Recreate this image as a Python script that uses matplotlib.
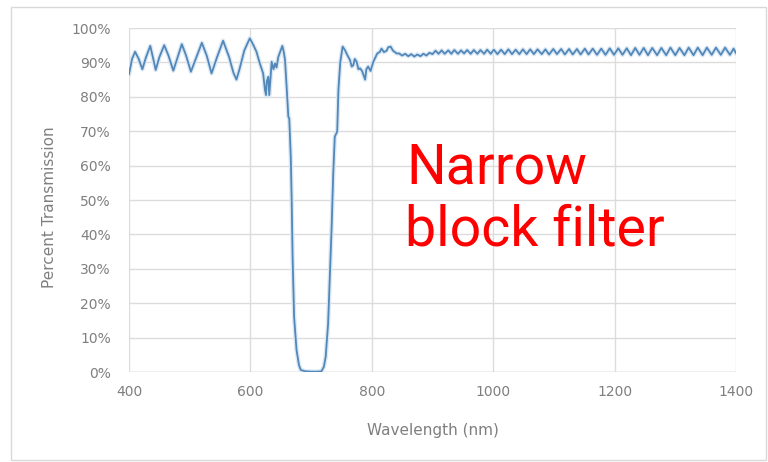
import matplotlib
matplotlib.use('Agg')
import matplotlib.pyplot as plt
from matplotlib.patches import Rectangle

# wavelength (nm) and transmission (%)
wavelength = [
	400, 405, 410, 416, 422, 428, 435, 440, 444, 450, 458, 465, 473, 480, 487,
	494, 502, 510, 520, 528, 536, 545, 555, 565, 572, 577, 582, 590, 599, 605,
	610, 615, 621, 624, 625.7, 627, 629.5, 631, 633, 635, 638, 640.5, 643, 646, 650,
	652.6, 655, 657, 660, 662.5, 664, 666.5, 668, 669.5, 672, 676, 680, 683, 690, 700,
	710, 717, 721, 724, 728, 731, 734, 736.5, 739, 743, 745, 748, 752, 756, 760,
	764, 767, 769.5, 772, 775, 778, 780.5, 784, 789, 791, 794, 798, 802.5, 806, 809,
	813, 816, 820, 824.5, 827, 831, 835, 841, 845, 850, 855, 860, 865, 870, 875,
	880, 885, 890, 895, 900,
	905, 910, 915, 920, 926, 931, 936, 942, 947, 952, 957, 963, 968, 974, 979,
	985, 990, 996, 1001, 1007, 1013, 1019, 1025, 1031, 1037, 1043, 1049, 1055, 1061, 1067,
	1073, 1080, 1086, 1092, 1099, 1105, 1112, 1118, 1125, 1131, 1138, 1144, 1151, 1157, 1164,
	1171, 1178, 1185, 1192, 1199, 1206, 1213, 1220, 1227, 1234, 1241, 1248, 1255, 1262, 1270,
	1277, 1285, 1292, 1300, 1307, 1315, 1322, 1330, 1337, 1345, 1352, 1360, 1367, 1375, 1382,
	1390, 1396, 1400]
transmission = [
	86.5, 91.0, 93.1, 91.0, 88.0, 91.5, 94.8, 91.0, 87.8, 91.5, 95.0, 92.0, 87.6, 91.5, 95.3,
	92.0, 87.3, 91.0, 95.7, 92.0, 86.8, 91.5, 96.3, 91.5, 87.0, 85.0, 88.0, 93.5, 97.0, 95.0,
	93.1, 90.0, 86.8, 82.0, 80.5, 84.5, 85.8, 80.5, 85.0, 90.2, 88.0, 89.7, 88.5, 91.6, 93.5,
	94.8, 93.0, 90.7, 82.0, 74.2, 73.7, 62.6, 50.0, 33.5, 16.0, 6.4, 2.0, 0.6, 0.2, 0.1,
	0.1, 0.2, 1.5, 4.4, 14.0, 28.7, 43.0, 57.8, 68.4, 69.9, 82.0, 90.0, 94.6, 93.5, 92.0,
	90.7, 88.8, 89.2, 91.0, 90.2, 88.0, 88.3, 87.5, 85.0, 88.0, 88.8, 87.5, 90.2, 91.5, 92.6,
	93.0, 94.0, 93.0, 93.4, 94.4, 94.6, 93.4, 92.6, 92.6, 92.0, 92.5, 91.8, 92.4, 91.7, 92.3,
	91.8, 92.5, 92.0, 92.8, 92.4,
	93.4, 92.5, 93.5, 92.5, 93.5, 92.5, 93.6, 92.5, 93.5, 92.6, 93.6, 92.5, 93.6, 92.5, 93.6,
	92.5, 93.7, 92.5, 93.7, 92.4, 93.7, 92.4, 93.8, 92.4, 93.7, 92.4, 93.8, 92.4, 93.8, 92.4,
	93.8, 92.4, 93.8, 92.3, 93.9, 92.4, 93.9, 92.3, 93.9, 92.3, 93.9, 92.3, 94.0, 92.3, 94.0,
	92.2, 94.0, 92.2, 94.1, 92.2, 94.1, 92.2, 94.1, 92.1, 94.2, 92.2, 94.2, 92.1, 94.2, 92.1,
	94.2, 92.1, 94.3, 92.1, 94.2, 92.1, 94.3, 92.1, 94.3, 92.1, 94.3, 92.2, 94.3, 92.2, 94.3,
	92.2, 94.0, 92.7]

x_ticks = [400, 600, 800, 1000, 1200, 1400]
y_ticks = [0, 10, 20, 30, 40, 50, 60, 70, 80, 90, 100]

fig = plt.figure(figsize=(7.68, 4.62), dpi=100)
ax = fig.add_axes([129/768, 1-372/462, (736-129)/768, (372-28)/462])

ax.plot(wavelength, transmission, color='#dae8f5', lw=3.2, solid_joinstyle='round')
ax.plot(wavelength, transmission, color='#5287b8', lw=1.3, solid_joinstyle='round')

ax.set_xlim(400, 1400)
ax.set_ylim(0, 100)
ax.set_xticks(x_ticks)
ax.set_yticks(y_ticks)
ax.set_yticklabels(['%d%%' % v for v in y_ticks])
ax.grid(True, color='#dcdcdc', lw=1)
ax.set_axisbelow(True)
for s in ax.spines.values():
	s.set_visible(False)
ax.axhline(0, color='#c4c4c4', lw=1, zorder=0.5)
ax.tick_params(length=0, colors='#7f7f7f', labelsize=10)
ax.tick_params(axis='y', pad=13)
ax.tick_params(axis='x', pad=9)

fig.text(50/768, 1-207/462, 'Percent Transmission', rotation=90, ha='center', va='center',
	color='#7f7f7f', fontsize=11)
fig.text(433/768, 1-430/462, 'Wavelength (nm)', ha='center', va='center',
	color='#7f7f7f', fontsize=11)

fig.text(406/768, 1-183/462, 'Narrow', color='#ff0000', fontsize=40, family='Roboto',
	ha='left', va='baseline')
fig.text(405/768, 1-246/462, 'block filter', color='#ff0000', fontsize=40, family='Roboto',
	ha='left', va='baseline')

fig.patches.append(Rectangle((11/768, 2/462), 755/768, 453/462, transform=fig.transFigure,
	fill=False, edgecolor='#d9d9d9', lw=1))

fig.savefig('out.png', dpi=100)
